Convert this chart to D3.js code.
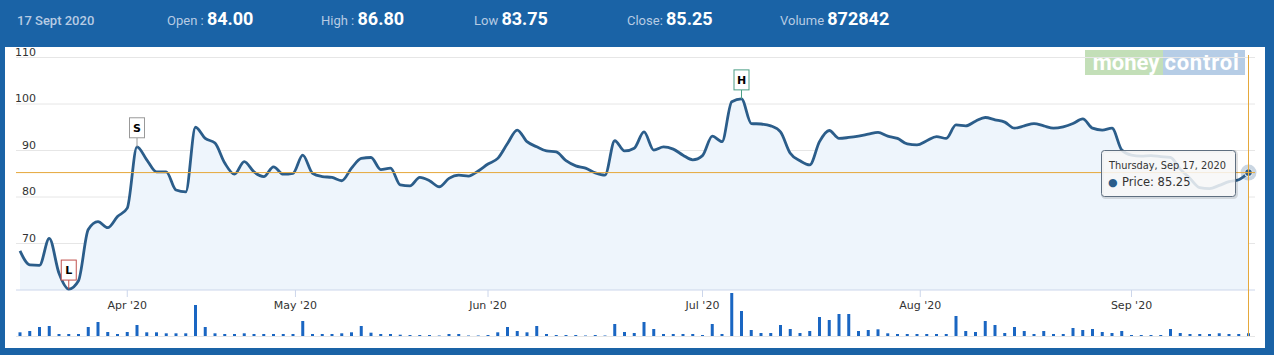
<!DOCTYPE html>
<html><head><meta charset="utf-8">
<script src="https://cdn.jsdelivr.net/npm/d3@7/dist/d3.min.js"></script>
<style>body{margin:0;background:#1a63a6;} svg{display:block}</style>
</head><body><svg id="c" width="1274" height="355"></svg>
<script>
// ---- DATA ----
const tradingMonths = [
  ["2020-03", [17,18,19,20,23,24,25,26,27,30,31]],
  ["2020-04", [1,3,7,8,9,13,15,16,17,20,21,22,23,24,27,28,29,30]],
  ["2020-05", [4,5,6,7,8,11,12,13,14,15,18,19,20,21,22,26,27,28,29]],
  ["2020-06", [1,2,3,4,5,8,9,10,11,12,15,16,17,18,19,22,23,24,25,26,29,30]],
  ["2020-07", [1,2,3,6,7,8,9,10,13,14,15,16,17,20,21,22,23,24,27,28,29,30,31]],
  ["2020-08", [3,4,5,6,7,10,11,12,13,14,17,18,19,20,21,24,25,26,27,28,31]],
  ["2020-09", [1,2,3,4,7,8,9,10,11,14,15,16,17]]
];
const price = [68.4,65.4,65.3,71.1,63.6,60.2,62.0,73.0,74.7,73.4,75.8,77.6,90.8,88.0,85.4,85.4,81.5,81.1,95.0,92.6,
  91.6,87.3,84.9,87.6,85.4,84.4,86.5,84.9,85.1,89.0,85.1,84.4,84.2,83.5,86.2,88.3,88.5,85.9,86.2,82.6,
  82.4,84.2,83.5,82.2,84.0,84.7,84.5,85.6,87.1,88.3,91.5,94.4,91.9,90.8,89.9,89.7,87.8,86.7,86.2,85.2,
  84.7,92.1,89.9,90.5,94.0,90.1,90.8,90.3,89.0,88.0,88.9,93.1,91.9,100.5,101.1,95.8,95.7,95.3,94.0,89.4,
  87.8,86.9,91.9,94.3,92.6,92.8,93.1,93.5,93.9,93.1,92.6,91.4,91.2,92.1,93.0,92.6,95.5,95.3,96.3,97.1,
  96.6,96.1,94.8,95.3,95.8,95.3,94.8,95.1,95.8,96.8,94.8,94.4,94.8,90.1,89.0,88.8,88.9,88.7,88.5,86.0,
  84.0,82.0,81.8,82.5,83.3,83.7,85.25];
const volumeK = [1180,1600,2880,3200,640,640,640,2880,4480,1280,640,1280,3520,1180,1180,860,860,860,9920,2880,
  860,640,640,860,640,640,640,640,640,4800,640,640,640,860,1180,3200,1060,640,640,420,
  320,320,320,160,640,640,160,160,320,1180,2880,1600,1180,3200,640,320,320,320,160,320,
  160,3840,1280,960,4480,2240,640,640,640,640,320,3840,640,13760,8000,1920,960,960,3520,2240,
  960,1600,6080,5120,7040,7040,1600,1920,2140,860,640,640,640,640,640,640,6400,1600,1280,4800,
  3520,960,2880,1600,640,1600,640,640,2560,1920,2240,1280,960,1600,320,320,320,320,2240,960,
  640,640,640,873,640,640,873];
const yTicks = [70,80,90,100,110];
const monthTicks = ["2020-04-01","2020-05-01","2020-06-01","2020-07-01","2020-08-01","2020-09-01"];
const flags = [{i:5,t:"L",c:"#c0504d"},{i:12,t:"S",c:"#999999"},{i:74,t:"H",c:"#4c9e86"}];
const header = [
  {x:17, label:"17 Sept 2020", value:""},
  {x:167, label:"Open : ", value:"84.00"},
  {x:321, label:"High : ", value:"86.80"},
  {x:474, label:"Low ", value:"83.75"},
  {x:627, label:"Close: ", value:"85.25"},
  {x:780, label:"Volume ", value:"872842"}
];
const tipDate = "Thursday, Sep 17, 2020";
const tipPrice = "Price: 85.25";
const lastPrice = 85.25;

// ---- BUILD ----
const parse = d3.timeParse("%Y-%m-%d");
const dates = [];
tradingMonths.forEach(([m, ds]) => ds.forEach(d => dates.push(parse(m + "-" + String(d).padStart(2,"0")))));

const svg = d3.select("#c");
const blue = "#1a63a6", lineC = "#2b5d8a";
svg.append("rect").attr("width",1274).attr("height",355).attr("fill",blue);
svg.append("rect").attr("x",5).attr("y",47).attr("width",1260).attr("height",301).attr("fill","#fff");

// header
header.forEach(h => {
  const t = svg.append("text").attr("x",h.x).attr("y",25).attr("font-family","Roboto").attr("fill","#b7cbe3");
  t.append("tspan").attr("font-size",13).attr("font-weight", h.value ? 400 : 500).text(h.label);
  if (h.value) t.append("tspan").attr("font-size",18).attr("font-weight",700).attr("fill","#fff").text(h.value);
});

const X0 = 16, X1 = 1255;
const x = d3.scaleLinear().domain([0, dates.length-1]).range([20, 1248.5]);
const y = d3.scaleLinear().domain([60,110]).range([290,57.5]);
const yv = d3.scaleLinear().domain([0, d3.max(volumeK)]).range([336, 293]);

// logo
const logo = svg.append("g");
logo.append("rect").attr("x",1085).attr("y",50).attr("width",78).attr("height",25).attr("fill","#c3dfb8");
logo.append("rect").attr("x",1163).attr("y",50).attr("width",82).attr("height",25).attr("fill","#b6cde6");
logo.append("text").attr("x",1126).attr("y",70).attr("text-anchor","middle").attr("font-family","Roboto").attr("font-weight",700).attr("font-size",22).attr("fill","#fff").text("money");
logo.append("text").attr("x",1202).attr("y",70).attr("text-anchor","middle").attr("font-family","Roboto").attr("font-weight",700).attr("font-size",22).attr("letter-spacing",0.8).attr("fill","#fff").text("control");

// gridlines
svg.append("g").selectAll("line").data(yTicks).join("line")
  .attr("x1",X0).attr("x2",X1).attr("y1",d=>y(d)).attr("y2",d=>y(d)).attr("stroke","#e6e6e6");
svg.append("g").selectAll("text").data(yTicks).join("text")
  .attr("x",36).attr("y",d=>y(d)-2).attr("text-anchor","end").attr("font-family","DejaVu Sans").attr("font-size",11).attr("fill","#333").text(d=>d);

// area + line
const curve = d3.curveMonotoneX;
svg.append("path").datum(price).attr("fill","#eef5fc")
  .attr("d", d3.area().x((d,i)=>x(i)).y0(y(60)).y1(d=>y(d)).curve(curve));
svg.append("line").attr("x1",X0).attr("x2",X1).attr("y1",290).attr("y2",290).attr("stroke","#ccd6eb");
svg.append("path").datum(price).attr("fill","none").attr("stroke",lineC).attr("stroke-width",2.8).attr("stroke-linejoin","round")
  .attr("d", d3.line().x((d,i)=>x(i)).y(d=>y(d)).curve(curve));

// month ticks
function tickX(ds){
  const t = parse(ds);
  const j = d3.bisectLeft(dates, t);
  if (+dates[j] === +t) return x(j);
  const f = (t - dates[j-1]) / (dates[j] - dates[j-1]);
  return x(j-1) + f*(x(j)-x(j-1));
}
const fmt = d3.timeFormat("%b '%y");
const tg = svg.append("g");
monthTicks.forEach(ds => {
  const tx = tickX(ds);
  tg.append("line").attr("x1",tx).attr("x2",tx).attr("y1",290).attr("y2",297).attr("stroke","#ccd6eb");
  tg.append("text").attr("x",tx).attr("y",308.5).attr("text-anchor","middle").attr("font-family","DejaVu Sans").attr("font-size",11).attr("fill","#333").text(fmt(parse(ds)));
});

// volume
svg.append("line").attr("x1",X0).attr("x2",X1).attr("y1",336.5).attr("y2",336.5).attr("stroke","#e6e6e6");
svg.append("g").selectAll("rect").data(volumeK).join("rect")
  .attr("x",(d,i)=>x(i)-1.5).attr("width",3).attr("y",d=>yv(d)).attr("height",d=>336-yv(d)).attr("fill","#1a66c2");

// flags
flags.forEach(f => {
  const fx = x(f.i), fy = y(price[f.i]);
  const g = svg.append("g");
  g.append("line").attr("x1",fx).attr("x2",fx).attr("y1",fy).attr("y2",fy-9).attr("stroke",f.c);
  g.append("rect").attr("x",fx-7.5).attr("y",fy-29).attr("width",15).attr("height",20).attr("fill","#fff").attr("stroke",f.c);
  g.append("text").attr("x",fx).attr("y",fy-15).attr("text-anchor","middle").attr("font-family","DejaVu Sans").attr("font-weight",700).attr("font-size",11).attr("fill","#000").text(f.t);
});

// marker + crosshairs
const lx = x(dates.length-1), ly = y(lastPrice);
svg.append("circle").attr("cx",lx).attr("cy",ly).attr("r",8).attr("fill","rgba(43,93,138,0.25)");
svg.append("circle").attr("cx",lx).attr("cy",ly).attr("r",4).attr("fill",lineC).attr("stroke","#fff");
svg.append("line").attr("x1",X0).attr("x2",X1).attr("y1",ly).attr("y2",ly).attr("stroke","#e5a83b");
svg.append("line").attr("x1",lx).attr("x2",lx).attr("y1",55).attr("y2",336).attr("stroke","#e5a83b");

// tooltip
const tt = svg.append("g");
tt.append("rect").attr("x",1102.5).attr("y",151.5).attr("width",134).attr("height",46).attr("rx",3).attr("fill","none").attr("stroke","rgba(0,0,0,0.12)").attr("stroke-width",3);
tt.append("rect").attr("x",1101.5).attr("y",150.5).attr("width",134).attr("height",46).attr("rx",3).attr("fill","rgba(247,247,247,0.85)").attr("stroke","#5f6f80");
tt.append("text").attr("x",1109).attr("y",169).attr("font-family","DejaVu Sans").attr("font-size",9.8).attr("fill","#333").text(tipDate);
tt.append("text").attr("x",1108).attr("y",186).attr("font-family","DejaVu Sans").attr("font-size",11).attr("fill",lineC).text("●");
tt.append("text").attr("x",1122).attr("y",186).attr("font-family","DejaVu Sans").attr("font-size",11.5).attr("fill","#333").text(tipPrice);
</script></body></html>
